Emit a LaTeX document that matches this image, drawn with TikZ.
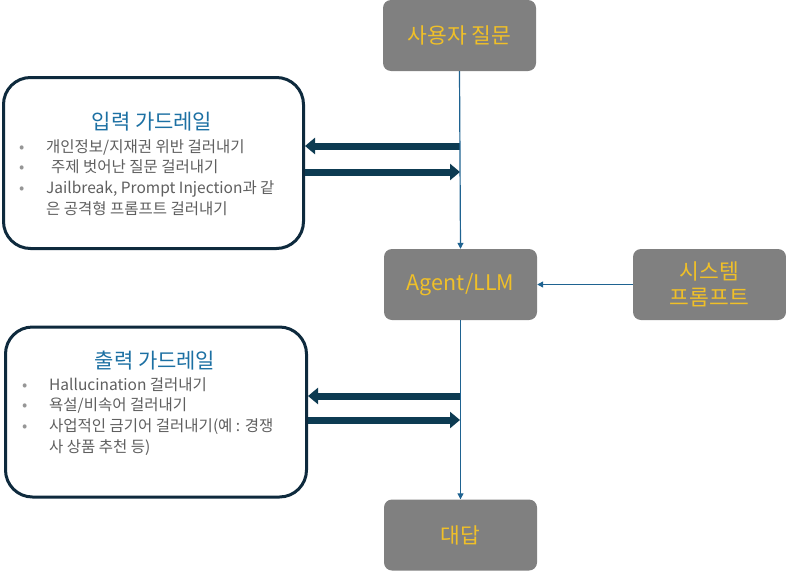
\documentclass[tikz,border=0pt]{standalone}
\usepackage{fontspec}
\setmainfont{Noto Sans CJK KR}
\usetikzlibrary{positioning,arrows.meta,calc}
\definecolor{guardborder}{RGB}{14,42,61}
\definecolor{guardtitle}{RGB}{28,112,163}
\definecolor{guardtext}{RGB}{95,95,95}
\definecolor{guardbullet}{RGB}{150,150,150}
\definecolor{flowline}{RGB}{31,99,145}
\definecolor{fatarrow}{RGB}{13,59,82}
\definecolor{stepfill}{RGB}{128,128,128}
\definecolor{steptext}{RGB}{240,192,40}
\newcommand{\gitem}[1]{\makebox[27pt][l]{\textcolor{guardbullet}{\textbullet}}#1}
\newcommand{\gcont}[1]{\hspace*{27pt}#1}
\tikzset{
    flow step/.style={
        rectangle,
        minimum width=153pt,
        minimum height=71pt,
        rounded corners=8pt,
        fill=stepfill,
        draw=none,
        inner sep=0pt,
        text=steptext,
        align=center,
        font=\fontsize{21.5}{26}\selectfont,
    },
    guard box/.style={
        rectangle,
        rounded corners=27pt,
        draw=guardborder,
        line width=3pt,
        fill=white,
        inner sep=0pt,
    },
    guard title/.style={text=guardtitle, font=\fontsize{21}{25}\selectfont, inner sep=0pt},
    guard list/.style={
        text=guardtext,
        font=\fontsize{15.5}{20.7}\selectfont,
        align=left,
        anchor=north west,
        inner sep=0pt,
    },
    flow arrow/.style={flowline, line width=1.2pt, -{Triangle[length=6pt,width=6pt]}},
    fat arrow/.style={fatarrow, line width=7pt, -{Triangle[length=10pt,width=16pt]}},
}
\begin{document}
\begin{tikzpicture}[x=1pt,y=-1pt]
    \useasboundingbox (0,0) rectangle (786,570);

    %Main flow on the right
    \node[flow step] (question) at (459.5,35.5) {사용자 질문};
    \node[flow step] (agent) at (460.5,284.5) {Agent/LLM};
    \node[flow step] (sysprompt) at (709.5,284.5) {시스템\\프롬프트};
    \node[flow step] (answer) at (460.5,535) {대답};

    %Guardrail boxes
    \node[guard box, minimum width=300pt, minimum height=171pt] (inguard) at (153.5,163) {};
    \node[guard box, minimum width=301pt, minimum height=170pt] (outguard) at (156,412) {};

    \node[guard title] (intitle) at (152,122) {입력 가드레일};
    \node[guard list] (inlist) at (19,139) {%
        \gitem{개인정보/지재권 위반 걸러내기}\\
        \gitem{\hspace{5pt}주제 벗어난 질문 걸러내기}\\
        \gitem{Jailbreak, Prompt Injection과 같}\\
        \gcont{은 공격형 프롬프트 걸러내기}};

    \node[guard title] (outtitle) at (155,361) {출력 가드레일};
    \node[guard list] (outlist) at (22,377) {%
        \gitem{Hallucination 걸러내기}\\
        \gitem{욕설/비속어 걸러내기}\\
        \gitem{사업적인 금기어 걸러내기(예 : 경쟁}\\
        \gcont{사 상품 추천 등)}};

    %Thick arrows between the flow line and the guardrails
    \coordinate (in-check) at (460,146);
    \coordinate (in-back) at (460,172);
    \coordinate (out-check) at (460,396);
    \coordinate (out-back) at (460,420);

    \draw[fat arrow] (in-check) -- (in-check -| inguard.east);
    \draw[fat arrow] (in-back -| inguard.east) -- (in-back);
    \draw[fat arrow] (out-check) -- (out-check -| outguard.east);
    \draw[fat arrow] (out-back -| outguard.east) -- (out-back);

    %Thin flow arrows
    \draw[flow arrow] (question.south) -- (agent.north);
    \draw[flow arrow] (agent.south) -- (answer.north);
    \draw[flow arrow] (sysprompt.west) -- (agent.east);
\end{tikzpicture}
\end{document}
